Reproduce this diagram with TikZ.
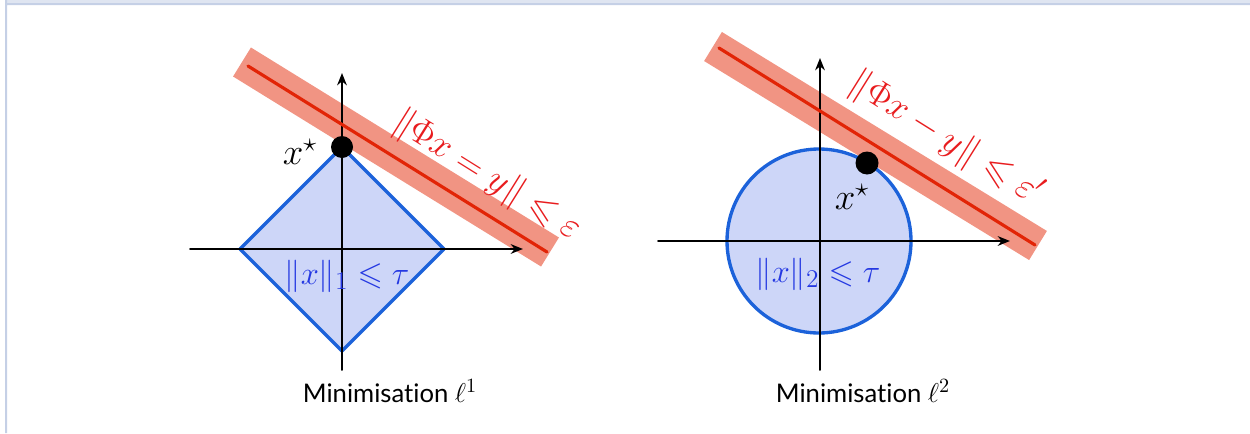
\RequirePackage{fix-cm}
\documentclass[tikz,border=0pt]{standalone}
\usepackage{amssymb}
\usepackage{fontspec}
\newfontfamily\capfont[Ligatures=NoCommon]{Lato}
\usetikzlibrary{arrows.meta}
\DeclareMathSizes{21}{21}{15}{11}
\DeclareMathSizes{18.5}{18.5}{14.5}{10}
\DeclareMathSizes{14.6}{15.5}{11.5}{8}
\definecolor{bandred}{RGB}{241,148,131}
\definecolor{linered}{RGB}{226,36,6}
\definecolor{labred}{RGB}{232,28,30}
\definecolor{ballblue}{RGB}{205,214,248}
\definecolor{edgeblue}{RGB}{28,98,218}
\definecolor{labblue}{RGB}{36,56,226}
\definecolor{framefill}{RGB}{223,229,241}
\definecolor{frameline}{RGB}{197,208,230}
\begin{document}
\begin{tikzpicture}[x=0.02cm, y=0.02cm, line cap=round, line join=round, >={Stealth[length=7pt,width=5.5pt]}]
			\tikzset{axis/.style={->, line width=1.1pt},
				band/.style={bandred, line width=19.4pt, line cap=butt},
				redline/.style={linered, line width=1.8pt},
				ball/.style={fill=ballblue, draw=edgeblue, line width=1.9pt},
				starlab/.style={font=\fontsize{21}{25}\selectfont},
				redlab/.style={text=labred, rotate=-32, font=\fontsize{21}{25}\selectfont},
				bluelab/.style={text=labblue, font=\fontsize{18.5}{22}\selectfont},
				caplab/.style={anchor=base, font=\capfont\fontsize{14.6}{17}\selectfont}}
			\useasboundingbox (0,0) rectangle (1250,-433);
			\fill[framefill] (7,0) rectangle (1250,-3);
			\fill[frameline] (7,-3) rectangle (1250,-5) (5,0) rectangle (7,-433);
			
			\draw[band] (242,-62)--(550,-252);
			\draw[ball] (342,-147)--(444,-249)--(342,-351)--(240,-249)--cycle;
			\draw[axis] (190,-249)--(523,-249);
			\draw[axis] (342,-370)--(342,-73);
			\draw[redline] (248,-66)--(547,-252);
			\fill (342,-147) circle (11) node[starlab] (xl) at (300,-152) {$x^\star$};
			\node[redlab] (cl) at (487,-176) {$\|\Phi x = y\| \leqslant \varepsilon$};
			\node[bluelab] (nl) at (347,-276) {$\|x\|_1 \leqslant \tau$};
			\node[caplab] (capl) at (390,-402) {Minimisation $\ell^1$};
			
			\draw[band] (713,-46.5)--(1038,-245.5);
			\draw[ball] (819,-241) circle (92);
			\draw[axis] (658,-241)--(1010,-241);
			\draw[axis] (820,-370)--(820,-58);
			\draw[redline] (719,-48)--(1035,-245);
			\fill (867,-163) circle (11.5) node[starlab] (xr) at (852,-197) {$x^\star$};
			\node[redlab] (cr) at (946,-139) {$\|\Phi x - y\| \leqslant \varepsilon'$};
			\node[bluelab] (nr) at (818,-274) {$\|x\|_2 \leqslant \tau$};
			\node[caplab] (capr) at (863,-402) {Minimisation $\ell^2$};
		\end{tikzpicture}
\end{document}
